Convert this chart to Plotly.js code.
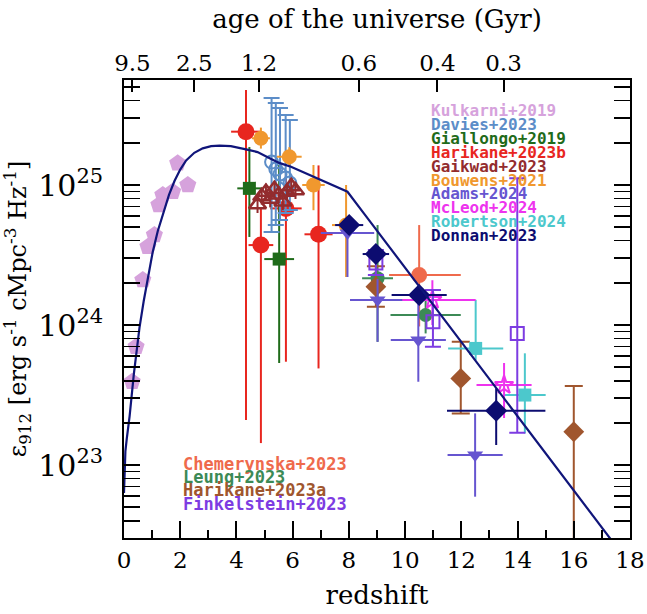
<!DOCTYPE html>
<html>
<head>
<meta charset="utf-8">
<script src="https://cdn.plot.ly/plotly-3.0.1.min.js"></script>
<style>html,body{margin:0;padding:0;background:#fff}#plot{width:647px;height:614px}</style>
</head>
<body>
<div id="plot"></div>
<script>
// ---------- data (log10 of emissivity in erg s^-1 cMpc^-3 Hz^-1) ----------
const curveZ   = [0,0.05,0.1,0.2,0.35,0.55,0.7,0.85,1.02,1.2,1.38,1.6,1.8,2.0,2.21,2.5,2.8,3.1,3.4,3.8,4.34,4.75,5.2,5.52,5.94,6.5,6.94,7.5,7.95,8.54,9.5,10.5,11.21,12.63,14,15.5,17.01,17.5];
const curveLog = [22.8,23.1,23.19,23.35,23.65,23.98,24.17,24.34,24.52,24.67,24.79,24.93,25.03,25.11,25.175,25.23,25.262,25.278,25.282,25.278,25.255,25.235,25.19,25.158,25.13,25.08,25.04,24.995,24.952,24.796,24.541,24.276,24.088,23.712,23.349,22.951,22.551,22.421];

const kulkarniZ   = [0.29,0.43,0.67,0.85,1.08,1.24,1.38,1.73,1.91,2.27];
const kulkarniLog = [23.595,23.845,24.321,24.559,24.643,24.857,24.929,24.952,25.155,25.0];

const daviesZ   = [5.25,5.4,5.55,5.75,5.9];
const daviesLog = [25.164,25.114,25.079,25.05,25.014];
const daviesUp  = [25.621,25.586,25.55,25.5,25.464];
const daviesLo  = [24.664,24.714,24.75,24.8,24.821];

const giallongoZ   = [4.46,5.52];
const giallongoLog = [24.976,24.471];
const giallongoUp  = [25.271,25.143];
const giallongoLo  = [24.629,23.729];
const giallongoZerr= [0.43,0.53];

const harikaneBZ   = [4.34,4.87,5.76,6.92];
const harikaneBLog = [25.381,24.571,24.833,24.648];
const harikaneBUp  = [25.679,24.836,25.1,25.14];
const harikaneBLo  = [23.321,23.157,23.738,23.69];
const harikaneBZerr= [0.53,0.44,0.56,0.5];

const gaikwadZ   = [4.75,4.9,5.05,5.2,5.35,5.5,5.65,5.8,5.95,6.1];
const gaikwadLog = [24.86,24.92,24.95,24.9,24.97,24.93,24.88,24.95,24.99,24.96];
const gaikwadErr = [0.06,0.06,0.06,0.06,0.06,0.06,0.06,0.06,0.06,0.06];

const bouwensZ   = [4.87,5.88,6.74,7.9];
const bouwensLog = [25.334,25.202,25.0,24.714];
const bouwensUp  = [25.41,25.27,25.143,25.0];
const bouwensLo  = [25.26,25.13,24.82,24.343];
const bouwensZerr= [0.32,0.44,0.4,0.5];

const adamsZ    = [7.95,9.02,10.47,12.49];
const adamsLog  = [24.657,24.179,23.893,23.071];
const adamsUp   = [24.714,24.33,24.2,23.369];
const adamsLo   = [24.343,23.88,23.595,22.774];
const adamsZerr = [0.95,0.98,0.98,0.98];

const mcleodZ    = [10.97,13.52];
const mcleodLog  = [24.179,23.571];
const mcleodUp   = [24.32,23.729];
const mcleodLo   = [24.0,23.336];
const mcleodZhi  = [1.54,0.98];
const mcleodZlo  = [1.07,0.98];

const robertsonZ    = [12.51,14.26];
const robertsonLog  = [23.833,23.5];
const robertsonUp   = [24.18,23.798];
const robertsonLo   = [23.75,23.226];
const robertsonZerr = [0.98,0.74];

const donnanZ    = [8.01,8.96,10.5,13.24];
const donnanLog  = [24.714,24.507,24.214,23.388];
const donnanUp   = [24.77,24.55,24.26,23.548];
const donnanLo   = [24.65,24.46,24.16,23.143];
const donnanZerr = [0.5,0.47,0.98,1.75];

const chemerynskaZ   = [10.5];
const chemerynskaLog = [24.357];
const chemerynskaUp  = [24.714];
const chemerynskaLo  = [23.99];
const chemerynskaZhi = [1.48];
const chemerynskaZlo = [1.07];

const leungZ    = [9.02,10.73];
const leungLog  = [24.334,24.071];
const leungUp   = [24.714,24.18];
const leungLo   = [23.88,23.94];
const leungZerr = [0.55,1.25];

const harikaneAZ   = [8.96,11.98,16.0];
const harikaneALog = [24.274,23.619,23.238];
const harikaneAUp  = [24.42,23.881,23.564];
const harikaneALo  = [24.131,23.369,22.0];

const finkelsteinZ   = [8.96,10.99,13.99];
const finkelsteinLog = [24.443,24.024,23.94];
const finkelsteinUp  = [24.536,24.25,25.048];
const finkelsteinLo  = [24.357,23.845,23.231];

const ageTickZ    = [0.3,2.5,4.8,8.35,11.15,13.5];
const ageTickText = ['9.5','2.5','1.2','0.6','0.4','0.3'];

const legendTop = ['Kulkarni+2019','Davies+2023','Giallongo+2019','Harikane+2023b','Gaikwad+2023','Bouwens+2021','Adams+2024','McLeod+2024','Robertson+2024','Donnan+2023'];
const legendBottom = ['Chemerynska+2023','Leung+2023','Harikane+2023a','Finkelstein+2023'];

// ---------- styles ----------
const C = {
  kulkarni:'#d6a2dc', davies:'#5c8dc8', giallongo:'#1f6b1a', harikaneB:'#e8261f',
  gaikwad:'#932c2e', bouwens:'#f0982e', adams:'#6655d0', mcleod:'#ee33ee',
  robertson:'#4cc8cc', donnan:'#0c0c70', chemerynska:'#ef6a4c', leung:'#3c8a56',
  harikaneA:'#a0562e', finkelstein:'#7d3ce2', curve:'#10157a'
};
const colTop = [C.kulkarni,C.davies,C.giallongo,C.harikaneB,C.gaikwad,C.bouwens,C.adams,C.mcleod,C.robertson,C.donnan];
const colBottom = [C.chemerynska,C.leung,C.harikaneA,C.finkelstein];

const p10 = a => a.map(v => Math.pow(10, v));
const diff = (a, b) => a.map((v, i) => Math.pow(10, v) - Math.pow(10, b[i]));

function series(z, lg, up, lo, opts) {
  const t = {
    type: 'scatter', mode: 'markers', x: z, y: p10(lg), showlegend: false, hoverinfo: 'skip',
    marker: {symbol: opts.symbol, size: opts.size, color: opts.color,
             line: {width: opts.lw || 0, color: opts.color}}
  };
  if (up) {
    t.error_y = {type: 'data', symmetric: false, array: diff(up, lg), arrayminus: diff(lg, lo),
                 color: opts.color, thickness: 2, width: opts.cap || 0};
  }
  if (opts.zhi) {
    t.error_x = {type: 'data', symmetric: false, array: opts.zhi, arrayminus: opts.zlo || opts.zhi,
                 color: opts.color, thickness: 2, width: 0};
  }
  return t;
}

const traces = [
  series(harikaneBZ, harikaneBLog, harikaneBUp, harikaneBLo, {symbol:'circle', size:17, color:C.harikaneB, zhi:harikaneBZerr}),
  series(giallongoZ, giallongoLog, giallongoUp, giallongoLo, {symbol:'square', size:13, color:C.giallongo, zhi:giallongoZerr}),
  series(daviesZ, daviesLog, daviesUp, daviesLo, {symbol:'circle-open', size:13, lw:2, color:C.davies, cap:8}),
  series(bouwensZ, bouwensLog, bouwensUp, bouwensLo, {symbol:'circle', size:15, color:C.bouwens, zhi:bouwensZerr}),
  series(gaikwadZ, gaikwadLog, gaikwadLog.map((v,i)=>v+gaikwadErr[i]), gaikwadLog.map((v,i)=>v-gaikwadErr[i]), {symbol:'triangle-up-open', size:15, lw:2.5, color:C.gaikwad}),
  series(kulkarniZ, kulkarniLog, null, null, {symbol:'pentagon', size:18, color:C.kulkarni}),
  series(chemerynskaZ, chemerynskaLog, chemerynskaUp, chemerynskaLo, {symbol:'circle', size:16, color:C.chemerynska, zhi:chemerynskaZhi, zlo:chemerynskaZlo}),
  series(leungZ, leungLog, leungUp, leungLo, {symbol:'circle', size:14, color:C.leung, zhi:leungZerr}),
  series(harikaneAZ, harikaneALog, harikaneAUp, harikaneALo, {symbol:'diamond', size:16, color:C.harikaneA, cap:9}),
  series(adamsZ, adamsLog, adamsUp, adamsLo, {symbol:'triangle-down', size:14, color:C.adams, zhi:adamsZerr}),
  series(robertsonZ, robertsonLog, robertsonUp, robertsonLo, {symbol:'square', size:13, color:C.robertson, zhi:robertsonZerr}),
  series(mcleodZ, mcleodLog, mcleodUp, mcleodLo, {symbol:'star-open', size:14, lw:2, color:C.mcleod, zhi:mcleodZhi, zlo:mcleodZlo}),
  series(finkelsteinZ, finkelsteinLog, finkelsteinUp, finkelsteinLo, {symbol:'square-open', size:13, lw:2, color:C.finkelstein, cap:8}),
  series(donnanZ, donnanLog, donnanUp, donnanLo, {symbol:'diamond', size:17, color:C.donnan, zhi:donnanZerr}),
  {type:'scatter', mode:'lines', x: curveZ, y: p10(curveLog), line:{color:C.curve, width:2.2}, showlegend:false, hoverinfo:'skip'},
  {type:'scatter', mode:'markers', x: [], y: [], xaxis:'x2', showlegend:false, hoverinfo:'skip'}
];

const L = 124, R = 630, T = 80, B = 538;
const px2paperX = px => (px - L) / (R - L);
const px2paperY = py => (B - py) / (B - T);

const annotations = [];
legendTop.forEach((s, i) => annotations.push({
  text: '<b>' + s + '</b>', xref:'paper', yref:'paper', x: px2paperX(429), y: px2paperY(110.5 + i*13.9),
  xanchor:'left', yanchor:'middle', showarrow:false,
  font:{family:'DejaVu Sans Mono', size:16, color: colTop[i]}
}));
legendBottom.forEach((s, i) => annotations.push({
  text: '<b>' + s + '</b>', xref:'paper', yref:'paper', x: px2paperX(181), y: px2paperY(463.5 + i*13.4),
  xanchor:'left', yanchor:'middle', showarrow:false,
  font:{family:'DejaVu Sans Mono', size:17, color: colBottom[i]}
}));

const layout = {
  width: 647, height: 614,
  margin: {l: L, r: 647 - R, t: T, b: 614 - B, pad: 0},
  paper_bgcolor: '#fff', plot_bgcolor: '#fff',
  font: {family: 'DejaVu Serif', color: '#000', size: 23},
  xaxis: {
    range: [0, 18], dtick: 2, tick0: 0, ticks: 'inside', ticklen: 17, tickwidth: 2, tickcolor: '#000',
    minor: {dtick: 1, ticks: 'inside', ticklen: 8, tickwidth: 2, tickcolor: '#000'},
    showline: true, linewidth: 2, linecolor: '#000', mirror: true,
    showgrid: false, zeroline: false, tickfont: {size: 23},
    title: {text: 'redshift', font: {size: 26}, standoff: 14}
  },
  xaxis2: {
    overlaying: 'x', side: 'top', range: [0, 18], tickmode: 'array',
    tickvals: ageTickZ, ticktext: ageTickText,
    ticks: 'inside', ticklen: 12, tickwidth: 2, tickcolor: '#000',
    showline: false, showgrid: false, zeroline: false, tickfont: {size: 23}, ticklabelstandoff: 3,
    title: {text: 'age of the universe (Gyr)', font: {size: 26}, standoff: 14}
  },
  yaxis: {
    type: 'log', range: [22.479, 25.75], dtick: 1, exponentformat: 'power',
    ticks: 'inside', ticklen: 16, tickwidth: 2, tickcolor: '#000',
    minor: {dtick: 'D1', ticks: 'inside', ticklen: 9, tickwidth: 1.5, tickcolor: '#000'},
    showline: true, linewidth: 2, linecolor: '#000', mirror: 'allticks',
    showgrid: false, zeroline: false, tickfont: {size: 24}, ticklabelstandoff: 14,
    title: {text: '\u03b5<sub>912</sub> [erg s<sup>-1</sup> cMpc<sup>-3</sup> Hz<sup>-1</sup>]', font: {size: 24}, standoff: 10}
  },
  annotations: annotations
};

Plotly.newPlot('plot', traces, layout, {staticPlot: true, displayModeBar: false});
</script>
</body>
</html>
